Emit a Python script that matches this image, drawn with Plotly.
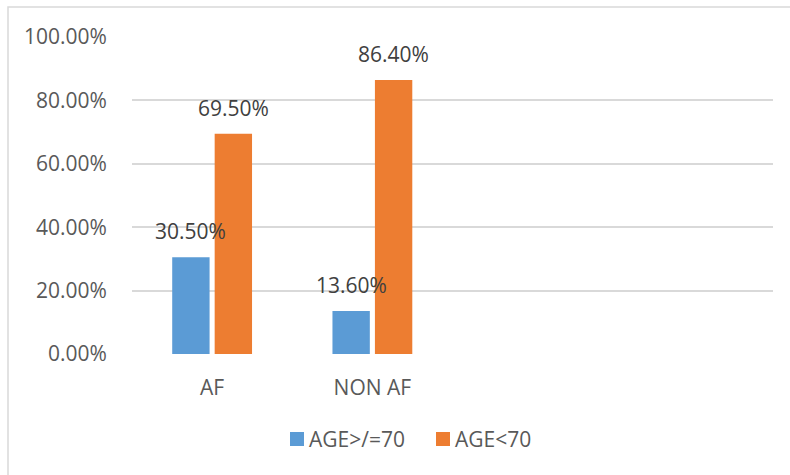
import plotly.graph_objects as go

# Category slots on the x axis (last two are empty placeholders)
categories = ["AF", "NON AF", "", ""]
age_ge_70 = [0.305, 0.136]
age_lt_70 = [0.695, 0.864]
series_names = ["AGE>/=70", "AGE<70"]
y_ticks = [0, 0.2, 0.4, 0.6, 0.8, 1.0]
y_tick_labels = ["0.00%", "20.00%", "40.00%", "60.00%", "80.00%", "100.00%"]

BLUE = "#5B9BD5"
ORANGE = "#ED7D31"
FONT = "Open Sans"
FS = 21
W, H = 790, 475
ML, MR, MT, MB = 132, 17, 37, 121
BARGAP = 0.47
BARGROUPGAP = 0.12

pw = W - ML - MR
ph = H - MT - MB


def px_x(p):
    return (p - ML) / pw


def px_y(p):
    return (H - MB - p) / ph


fig = go.Figure()
xs = list(range(len(age_ge_70)))
colors = [BLUE, ORANGE]
for name, vals, col in zip(series_names, (age_ge_70, age_lt_70), colors):
    fig.add_trace(go.Bar(x=xs, y=vals, name=name, marker_color=col,
                         marker_line_width=0, showlegend=False))

# value labels above each bar
slot = (1 - BARGAP) / 2
for vals, off in ((age_ge_70, -slot / 2), (age_lt_70, slot / 2)):
    for i, v in enumerate(vals):
        fig.add_annotation(x=i + off, y=v, text=f"{v * 100:.2f}%", showarrow=False,
                           yshift=26, yanchor="middle", xanchor="center",
                           font=dict(family=FONT, size=FS, color="#404040"))

# legend row below the axis: colour key squares with series names
legend_starts = [290, 436]
for start, name, col in zip(legend_starts, series_names, colors):
    fig.add_shape(type="rect", xref="paper", yref="paper",
                  x0=px_x(start), x1=px_x(start + 14),
                  y0=px_y(446), y1=px_y(432),
                  line=dict(width=0), fillcolor=col)
    fig.add_annotation(xref="paper", yref="paper", x=px_x(start + 17), y=px_y(439),
                       text=name, showarrow=False, xanchor="left", yanchor="middle",
                       font=dict(family=FONT, size=FS, color="#595959"))

# light chart-area border
fig.add_shape(type="rect", xref="paper", yref="paper",
              x0=px_x(8), x1=px_x(W + 20),
              y0=px_y(H + 20), y1=px_y(7),
              line=dict(color="#D9D9D9", width=1.5), fillcolor="rgba(0,0,0,0)", layer="below")

fig.update_layout(
    width=W, height=H,
    margin=dict(l=ML, r=MR, t=MT, b=MB),
    paper_bgcolor="white", plot_bgcolor="white",
    barmode="group", bargap=BARGAP, bargroupgap=BARGROUPGAP,
    font=dict(family=FONT, size=FS, color="#595959"),
    showlegend=False,
    xaxis=dict(range=[-0.5, len(categories) - 0.5], tickvals=list(range(len(categories))),
               ticktext=categories, showgrid=False, zeroline=False,
               showline=False, ticks="outside", ticklen=15, tickcolor="rgba(0,0,0,0)",
               tickfont=dict(family=FONT, size=FS, color="#595959"), fixedrange=True),
    yaxis=dict(range=[0, 1.0], tickvals=y_ticks, ticktext=y_tick_labels,
               showgrid=True, gridcolor="#D9D9D9", gridwidth=1.5,
               zeroline=False, showline=False,
               ticks="outside", ticklen=20, tickcolor="rgba(0,0,0,0)",
               tickfont=dict(family=FONT, size=FS, color="#595959")),
)
fig.write_html("out.html")
